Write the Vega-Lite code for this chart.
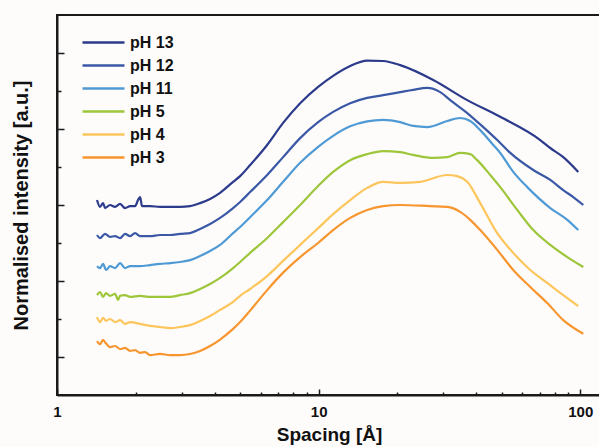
{
  "$schema": "https://vega.github.io/schema/vega-lite/v6.json",
  "width": 544,
  "height": 380,
  "autosize": {"type": "none"},
  "padding": {"left": 57, "top": 15, "right": 0, "bottom": 52},
  "background": "#fdfcfb",
  "config": {
    "font": "Liberation Sans",
    "view": {"stroke": "#1a1a1a", "strokeWidth": 2}
  },
  "data": {
    "values": [
      {"pH": "pH 13", "spacing": 1.422, "intensity": 5.13},
      {"pH": "pH 13", "spacing": 1.460, "intensity": 4.95},
      {"pH": "pH 13", "spacing": 1.500, "intensity": 5.05},
      {"pH": "pH 13", "spacing": 1.526, "intensity": 4.92},
      {"pH": "pH 13", "spacing": 1.595, "intensity": 5.00},
      {"pH": "pH 13", "spacing": 1.667, "intensity": 4.95},
      {"pH": "pH 13", "spacing": 1.742, "intensity": 5.03},
      {"pH": "pH 13", "spacing": 1.820, "intensity": 4.92},
      {"pH": "pH 13", "spacing": 1.902, "intensity": 4.97},
      {"pH": "pH 13", "spacing": 1.988, "intensity": 4.97},
      {"pH": "pH 13", "spacing": 2.040, "intensity": 5.13},
      {"pH": "pH 13", "spacing": 2.077, "intensity": 5.21},
      {"pH": "pH 13", "spacing": 2.114, "intensity": 4.97},
      {"pH": "pH 13", "spacing": 2.268, "intensity": 4.97},
      {"pH": "pH 13", "spacing": 2.477, "intensity": 4.95},
      {"pH": "pH 13", "spacing": 2.705, "intensity": 4.95},
      {"pH": "pH 13", "spacing": 2.954, "intensity": 4.95},
      {"pH": "pH 13", "spacing": 3.225, "intensity": 4.97},
      {"pH": "pH 13", "spacing": 3.523, "intensity": 5.05},
      {"pH": "pH 13", "spacing": 3.847, "intensity": 5.16},
      {"pH": "pH 13", "spacing": 4.201, "intensity": 5.32},
      {"pH": "pH 13", "spacing": 4.710, "intensity": 5.61},
      {"pH": "pH 13", "spacing": 5.010, "intensity": 5.76},
      {"pH": "pH 13", "spacing": 5.471, "intensity": 6.05},
      {"pH": "pH 13", "spacing": 6.356, "intensity": 6.58},
      {"pH": "pH 13", "spacing": 7.315, "intensity": 7.16},
      {"pH": "pH 13", "spacing": 8.498, "intensity": 7.68},
      {"pH": "pH 13", "spacing": 9.956, "intensity": 8.11},
      {"pH": "pH 13", "spacing": 11.36, "intensity": 8.40},
      {"pH": "pH 13", "spacing": 13.20, "intensity": 8.66},
      {"pH": "pH 13", "spacing": 15.33, "intensity": 8.80},
      {"pH": "pH 13", "spacing": 17.65, "intensity": 8.79},
      {"pH": "pH 13", "spacing": 20.50, "intensity": 8.68},
      {"pH": "pH 13", "spacing": 27.41, "intensity": 8.29},
      {"pH": "pH 13", "spacing": 36.98, "intensity": 7.76},
      {"pH": "pH 13", "spacing": 49.44, "intensity": 7.32},
      {"pH": "pH 13", "spacing": 70.31, "intensity": 6.71},
      {"pH": "pH 13", "spacing": 76.79, "intensity": 6.50},
      {"pH": "pH 13", "spacing": 86.09, "intensity": 6.26},
      {"pH": "pH 13", "spacing": 98.25, "intensity": 5.87},

      {"pH": "pH 12", "spacing": 1.422, "intensity": 4.21},
      {"pH": "pH 12", "spacing": 1.460, "intensity": 4.13},
      {"pH": "pH 12", "spacing": 1.526, "intensity": 4.24},
      {"pH": "pH 12", "spacing": 1.595, "intensity": 4.16},
      {"pH": "pH 12", "spacing": 1.667, "intensity": 4.18},
      {"pH": "pH 12", "spacing": 1.742, "intensity": 4.13},
      {"pH": "pH 12", "spacing": 1.820, "intensity": 4.24},
      {"pH": "pH 12", "spacing": 1.902, "intensity": 4.18},
      {"pH": "pH 12", "spacing": 1.988, "intensity": 4.26},
      {"pH": "pH 12", "spacing": 2.077, "intensity": 4.18},
      {"pH": "pH 12", "spacing": 2.268, "intensity": 4.18},
      {"pH": "pH 12", "spacing": 2.477, "intensity": 4.21},
      {"pH": "pH 12", "spacing": 2.705, "intensity": 4.21},
      {"pH": "pH 12", "spacing": 2.954, "intensity": 4.24},
      {"pH": "pH 12", "spacing": 3.225, "intensity": 4.26},
      {"pH": "pH 12", "spacing": 3.523, "intensity": 4.37},
      {"pH": "pH 12", "spacing": 3.847, "intensity": 4.50},
      {"pH": "pH 12", "spacing": 4.201, "intensity": 4.66},
      {"pH": "pH 12", "spacing": 4.710, "intensity": 4.92},
      {"pH": "pH 12", "spacing": 5.010, "intensity": 5.08},
      {"pH": "pH 12", "spacing": 5.471, "intensity": 5.34},
      {"pH": "pH 12", "spacing": 6.356, "intensity": 5.79},
      {"pH": "pH 12", "spacing": 7.315, "intensity": 6.26},
      {"pH": "pH 12", "spacing": 8.498, "intensity": 6.76},
      {"pH": "pH 12", "spacing": 9.956, "intensity": 7.18},
      {"pH": "pH 12", "spacing": 11.36, "intensity": 7.45},
      {"pH": "pH 12", "spacing": 13.20, "intensity": 7.68},
      {"pH": "pH 12", "spacing": 15.33, "intensity": 7.82},
      {"pH": "pH 12", "spacing": 17.65, "intensity": 7.89},
      {"pH": "pH 12", "spacing": 20.50, "intensity": 7.97},
      {"pH": "pH 12", "spacing": 22.98, "intensity": 8.03},
      {"pH": "pH 12", "spacing": 25.99, "intensity": 8.08},
      {"pH": "pH 12", "spacing": 29.15, "intensity": 7.97},
      {"pH": "pH 12", "spacing": 31.84, "intensity": 7.76},
      {"pH": "pH 12", "spacing": 36.98, "intensity": 7.42},
      {"pH": "pH 12", "spacing": 42.58, "intensity": 7.05},
      {"pH": "pH 12", "spacing": 48.15, "intensity": 6.71},
      {"pH": "pH 12", "spacing": 54.00, "intensity": 6.37},
      {"pH": "pH 12", "spacing": 66.12, "intensity": 5.92},
      {"pH": "pH 12", "spacing": 76.79, "intensity": 5.66},
      {"pH": "pH 12", "spacing": 86.09, "intensity": 5.39},
      {"pH": "pH 12", "spacing": 94.01, "intensity": 5.21},
      {"pH": "pH 12", "spacing": 102.7, "intensity": 5.00},

      {"pH": "pH 11", "spacing": 1.422, "intensity": 3.39},
      {"pH": "pH 11", "spacing": 1.460, "intensity": 3.34},
      {"pH": "pH 11", "spacing": 1.500, "intensity": 3.45},
      {"pH": "pH 11", "spacing": 1.540, "intensity": 3.29},
      {"pH": "pH 11", "spacing": 1.595, "intensity": 3.39},
      {"pH": "pH 11", "spacing": 1.667, "intensity": 3.34},
      {"pH": "pH 11", "spacing": 1.742, "intensity": 3.47},
      {"pH": "pH 11", "spacing": 1.820, "intensity": 3.34},
      {"pH": "pH 11", "spacing": 1.902, "intensity": 3.39},
      {"pH": "pH 11", "spacing": 2.077, "intensity": 3.39},
      {"pH": "pH 11", "spacing": 2.268, "intensity": 3.42},
      {"pH": "pH 11", "spacing": 2.477, "intensity": 3.45},
      {"pH": "pH 11", "spacing": 2.705, "intensity": 3.47},
      {"pH": "pH 11", "spacing": 2.954, "intensity": 3.50},
      {"pH": "pH 11", "spacing": 3.225, "intensity": 3.55},
      {"pH": "pH 11", "spacing": 3.523, "intensity": 3.66},
      {"pH": "pH 11", "spacing": 3.847, "intensity": 3.79},
      {"pH": "pH 11", "spacing": 4.201, "intensity": 3.95},
      {"pH": "pH 11", "spacing": 4.710, "intensity": 4.26},
      {"pH": "pH 11", "spacing": 5.010, "intensity": 4.42},
      {"pH": "pH 11", "spacing": 5.471, "intensity": 4.68},
      {"pH": "pH 11", "spacing": 6.356, "intensity": 5.13},
      {"pH": "pH 11", "spacing": 7.315, "intensity": 5.61},
      {"pH": "pH 11", "spacing": 8.498, "intensity": 6.11},
      {"pH": "pH 11", "spacing": 9.956, "intensity": 6.53},
      {"pH": "pH 11", "spacing": 11.36, "intensity": 6.82},
      {"pH": "pH 11", "spacing": 13.20, "intensity": 7.07},
      {"pH": "pH 11", "spacing": 15.33, "intensity": 7.20},
      {"pH": "pH 11", "spacing": 17.65, "intensity": 7.24},
      {"pH": "pH 11", "spacing": 20.50, "intensity": 7.18},
      {"pH": "pH 11", "spacing": 22.98, "intensity": 7.08},
      {"pH": "pH 11", "spacing": 25.99, "intensity": 7.05},
      {"pH": "pH 11", "spacing": 31.00, "intensity": 7.21},
      {"pH": "pH 11", "spacing": 34.76, "intensity": 7.29},
      {"pH": "pH 11", "spacing": 37.96, "intensity": 7.21},
      {"pH": "pH 11", "spacing": 41.46, "intensity": 6.97},
      {"pH": "pH 11", "spacing": 46.48, "intensity": 6.58},
      {"pH": "pH 11", "spacing": 49.44, "intensity": 6.37},
      {"pH": "pH 11", "spacing": 55.43, "intensity": 5.87},
      {"pH": "pH 11", "spacing": 62.71, "intensity": 5.47},
      {"pH": "pH 11", "spacing": 76.79, "intensity": 4.92},
      {"pH": "pH 11", "spacing": 89.19, "intensity": 4.61},
      {"pH": "pH 11", "spacing": 98.25, "intensity": 4.34},

      {"pH": "pH 5", "spacing": 1.422, "intensity": 2.63},
      {"pH": "pH 5", "spacing": 1.460, "intensity": 2.71},
      {"pH": "pH 5", "spacing": 1.500, "intensity": 2.58},
      {"pH": "pH 5", "spacing": 1.540, "intensity": 2.68},
      {"pH": "pH 5", "spacing": 1.595, "intensity": 2.61},
      {"pH": "pH 5", "spacing": 1.667, "intensity": 2.66},
      {"pH": "pH 5", "spacing": 1.712, "intensity": 2.50},
      {"pH": "pH 5", "spacing": 1.742, "intensity": 2.61},
      {"pH": "pH 5", "spacing": 1.820, "intensity": 2.63},
      {"pH": "pH 5", "spacing": 1.902, "intensity": 2.58},
      {"pH": "pH 5", "spacing": 2.077, "intensity": 2.61},
      {"pH": "pH 5", "spacing": 2.268, "intensity": 2.58},
      {"pH": "pH 5", "spacing": 2.477, "intensity": 2.58},
      {"pH": "pH 5", "spacing": 2.705, "intensity": 2.58},
      {"pH": "pH 5", "spacing": 2.954, "intensity": 2.63},
      {"pH": "pH 5", "spacing": 3.225, "intensity": 2.68},
      {"pH": "pH 5", "spacing": 3.523, "intensity": 2.79},
      {"pH": "pH 5", "spacing": 3.847, "intensity": 2.92},
      {"pH": "pH 5", "spacing": 4.201, "intensity": 3.08},
      {"pH": "pH 5", "spacing": 4.710, "intensity": 3.34},
      {"pH": "pH 5", "spacing": 5.010, "intensity": 3.50},
      {"pH": "pH 5", "spacing": 5.471, "intensity": 3.74},
      {"pH": "pH 5", "spacing": 6.356, "intensity": 4.13},
      {"pH": "pH 5", "spacing": 7.315, "intensity": 4.55},
      {"pH": "pH 5", "spacing": 8.498, "intensity": 5.00},
      {"pH": "pH 5", "spacing": 9.956, "intensity": 5.50},
      {"pH": "pH 5", "spacing": 11.36, "intensity": 5.87},
      {"pH": "pH 5", "spacing": 13.20, "intensity": 6.18},
      {"pH": "pH 5", "spacing": 15.33, "intensity": 6.34},
      {"pH": "pH 5", "spacing": 17.65, "intensity": 6.42},
      {"pH": "pH 5", "spacing": 20.50, "intensity": 6.39},
      {"pH": "pH 5", "spacing": 22.98, "intensity": 6.32},
      {"pH": "pH 5", "spacing": 27.41, "intensity": 6.24},
      {"pH": "pH 5", "spacing": 31.00, "intensity": 6.26},
      {"pH": "pH 5", "spacing": 34.76, "intensity": 6.37},
      {"pH": "pH 5", "spacing": 37.96, "intensity": 6.34},
      {"pH": "pH 5", "spacing": 40.37, "intensity": 6.18},
      {"pH": "pH 5", "spacing": 45.28, "intensity": 5.79},
      {"pH": "pH 5", "spacing": 49.44, "intensity": 5.47},
      {"pH": "pH 5", "spacing": 57.42, "intensity": 4.87},
      {"pH": "pH 5", "spacing": 66.12, "intensity": 4.34},
      {"pH": "pH 5", "spacing": 76.79, "intensity": 3.95},
      {"pH": "pH 5", "spacing": 89.19, "intensity": 3.63},
      {"pH": "pH 5", "spacing": 102.7, "intensity": 3.37},

      {"pH": "pH 4", "spacing": 1.422, "intensity": 2.05},
      {"pH": "pH 4", "spacing": 1.460, "intensity": 1.92},
      {"pH": "pH 4", "spacing": 1.500, "intensity": 2.03},
      {"pH": "pH 4", "spacing": 1.540, "intensity": 1.95},
      {"pH": "pH 4", "spacing": 1.595, "intensity": 2.00},
      {"pH": "pH 4", "spacing": 1.667, "intensity": 1.92},
      {"pH": "pH 4", "spacing": 1.742, "intensity": 1.97},
      {"pH": "pH 4", "spacing": 1.820, "intensity": 1.87},
      {"pH": "pH 4", "spacing": 1.902, "intensity": 1.92},
      {"pH": "pH 4", "spacing": 2.077, "intensity": 1.87},
      {"pH": "pH 4", "spacing": 2.268, "intensity": 1.82},
      {"pH": "pH 4", "spacing": 2.477, "intensity": 1.79},
      {"pH": "pH 4", "spacing": 2.705, "intensity": 1.76},
      {"pH": "pH 4", "spacing": 2.954, "intensity": 1.79},
      {"pH": "pH 4", "spacing": 3.225, "intensity": 1.84},
      {"pH": "pH 4", "spacing": 3.523, "intensity": 1.95},
      {"pH": "pH 4", "spacing": 3.847, "intensity": 2.08},
      {"pH": "pH 4", "spacing": 4.201, "intensity": 2.24},
      {"pH": "pH 4", "spacing": 4.710, "intensity": 2.45},
      {"pH": "pH 4", "spacing": 5.010, "intensity": 2.61},
      {"pH": "pH 4", "spacing": 5.471, "intensity": 2.79},
      {"pH": "pH 4", "spacing": 6.356, "intensity": 3.13},
      {"pH": "pH 4", "spacing": 7.315, "intensity": 3.53},
      {"pH": "pH 4", "spacing": 8.498, "intensity": 3.95},
      {"pH": "pH 4", "spacing": 9.956, "intensity": 4.39},
      {"pH": "pH 4", "spacing": 11.36, "intensity": 4.76},
      {"pH": "pH 4", "spacing": 13.20, "intensity": 5.13},
      {"pH": "pH 4", "spacing": 15.33, "intensity": 5.45},
      {"pH": "pH 4", "spacing": 17.65, "intensity": 5.61},
      {"pH": "pH 4", "spacing": 20.50, "intensity": 5.58},
      {"pH": "pH 4", "spacing": 24.45, "intensity": 5.61},
      {"pH": "pH 4", "spacing": 31.00, "intensity": 5.79},
      {"pH": "pH 4", "spacing": 33.85, "intensity": 5.76},
      {"pH": "pH 4", "spacing": 36.98, "intensity": 5.61},
      {"pH": "pH 4", "spacing": 41.46, "intensity": 5.05},
      {"pH": "pH 4", "spacing": 48.15, "intensity": 4.26},
      {"pH": "pH 4", "spacing": 55.43, "intensity": 3.74},
      {"pH": "pH 4", "spacing": 64.40, "intensity": 3.29},
      {"pH": "pH 4", "spacing": 74.77, "intensity": 2.95},
      {"pH": "pH 4", "spacing": 86.09, "intensity": 2.63},
      {"pH": "pH 4", "spacing": 98.25, "intensity": 2.34},

      {"pH": "pH 3", "spacing": 1.422, "intensity": 1.42},
      {"pH": "pH 3", "spacing": 1.460, "intensity": 1.34},
      {"pH": "pH 3", "spacing": 1.500, "intensity": 1.45},
      {"pH": "pH 3", "spacing": 1.526, "intensity": 1.39},
      {"pH": "pH 3", "spacing": 1.595, "intensity": 1.26},
      {"pH": "pH 3", "spacing": 1.667, "intensity": 1.29},
      {"pH": "pH 3", "spacing": 1.742, "intensity": 1.21},
      {"pH": "pH 3", "spacing": 1.820, "intensity": 1.24},
      {"pH": "pH 3", "spacing": 1.902, "intensity": 1.16},
      {"pH": "pH 3", "spacing": 1.988, "intensity": 1.18},
      {"pH": "pH 3", "spacing": 2.077, "intensity": 1.11},
      {"pH": "pH 3", "spacing": 2.170, "intensity": 1.13},
      {"pH": "pH 3", "spacing": 2.268, "intensity": 1.05},
      {"pH": "pH 3", "spacing": 2.477, "intensity": 1.08},
      {"pH": "pH 3", "spacing": 2.705, "intensity": 1.05},
      {"pH": "pH 3", "spacing": 2.954, "intensity": 1.05},
      {"pH": "pH 3", "spacing": 3.225, "intensity": 1.08},
      {"pH": "pH 3", "spacing": 3.523, "intensity": 1.16},
      {"pH": "pH 3", "spacing": 3.847, "intensity": 1.29},
      {"pH": "pH 3", "spacing": 4.201, "intensity": 1.46},
      {"pH": "pH 3", "spacing": 4.710, "intensity": 1.74},
      {"pH": "pH 3", "spacing": 5.010, "intensity": 1.92},
      {"pH": "pH 3", "spacing": 5.471, "intensity": 2.22},
      {"pH": "pH 3", "spacing": 6.356, "intensity": 2.76},
      {"pH": "pH 3", "spacing": 7.315, "intensity": 3.22},
      {"pH": "pH 3", "spacing": 8.498, "intensity": 3.63},
      {"pH": "pH 3", "spacing": 9.956, "intensity": 4.00},
      {"pH": "pH 3", "spacing": 11.36, "intensity": 4.34},
      {"pH": "pH 3", "spacing": 13.20, "intensity": 4.66},
      {"pH": "pH 3", "spacing": 15.33, "intensity": 4.87},
      {"pH": "pH 3", "spacing": 17.65, "intensity": 4.97},
      {"pH": "pH 3", "spacing": 20.50, "intensity": 5.00},
      {"pH": "pH 3", "spacing": 26.69, "intensity": 4.97},
      {"pH": "pH 3", "spacing": 31.00, "intensity": 4.95},
      {"pH": "pH 3", "spacing": 34.76, "intensity": 4.82},
      {"pH": "pH 3", "spacing": 37.96, "intensity": 4.61},
      {"pH": "pH 3", "spacing": 41.46, "intensity": 4.34},
      {"pH": "pH 3", "spacing": 48.15, "intensity": 3.82},
      {"pH": "pH 3", "spacing": 55.43, "intensity": 3.29},
      {"pH": "pH 3", "spacing": 64.40, "intensity": 2.84},
      {"pH": "pH 3", "spacing": 74.77, "intensity": 2.42},
      {"pH": "pH 3", "spacing": 86.09, "intensity": 1.97},
      {"pH": "pH 3", "spacing": 102.7, "intensity": 1.61}
    ]
  },
  "mark": {"type": "line", "strokeWidth": 2.2, "interpolate": "monotone"},
  "encoding": {
    "x": {
      "field": "spacing",
      "type": "quantitative",
      "scale": {"type": "log", "domain": [1, 120], "nice": false},
      "axis": {
        "title": "Spacing [Å]",
        "titleFontSize": 19,
        "titleFontWeight": "bold",
        "titleColor": "#111",
        "titlePadding": 3,
        "values": [1, 2, 3, 4, 5, 6, 7, 8, 9, 10, 20, 30, 40, 50, 60, 70, 80, 90, 100],
        "labelExpr": "datum.value == 1 ? '1' : datum.value == 10 ? '10' : datum.value == 100 ? '100' : ''",
        "labelFontSize": 15,
        "labelFontWeight": "bold",
        "labelColor": "#111",
        "labelPadding": 15,
        "labelFlush": false,
        "labelOverlap": false,
        "domainColor": "#1a1a1a",
        "domainWidth": 2,
        "tickColor": "#1a1a1a",
        "tickWidth": 1.5,
        "tickSize": {"condition": {"test": "datum.value == 1 || datum.value == 10 || datum.value == 100", "value": -6}, "value": -3},
        "grid": false
      }
    },
    "y": {
      "field": "intensity",
      "type": "quantitative",
      "scale": {"domain": [0, 10], "nice": false},
      "axis": {
        "title": "Normalised intensity [a.u.]",
        "titleFontSize": 20,
        "titleFontWeight": "bold",
        "titleColor": "#111",
        "titlePadding": 25,
        "values": [1, 2, 3, 4, 5, 6, 7, 8, 9],
        "labels": false,
        "domainColor": "#1a1a1a",
        "domainWidth": 2,
        "tickColor": "#1a1a1a",
        "tickWidth": 1.5,
        "tickSize": {"condition": {"test": "datum.value % 2 == 1", "value": -7}, "value": -4},
        "grid": false
      }
    },
    "color": {
      "field": "pH",
      "type": "nominal",
      "scale": {
        "domain": ["pH 13", "pH 12", "pH 11", "pH 5", "pH 4", "pH 3"],
        "range": ["#2b3a8a", "#3a58a6", "#4f9ad4", "#9dc63b", "#fdc65c", "#f7952f"]
      },
      "legend": {
        "title": null,
        "orient": "none",
        "legendX": 24,
        "legendY": 16,
        "padding": 0,
        "symbolType": "stroke",
        "symbolSize": 1764,
        "symbolStrokeWidth": 2.5,
        "labelFontSize": 16,
        "labelFontWeight": "bold",
        "labelColor": "#111",
        "labelOffset": 4,
        "clipHeight": 23,
        "rowPadding": 0
      }
    }
  }
}
